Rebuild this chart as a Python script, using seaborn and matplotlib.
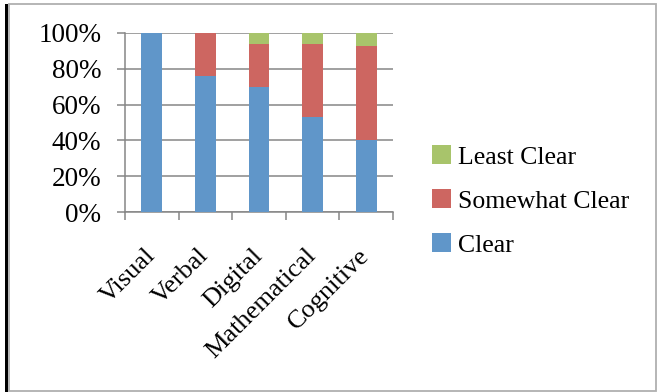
import matplotlib
matplotlib.use("Agg")
import matplotlib.pyplot as plt
from matplotlib.patches import Rectangle, Patch
from matplotlib.ticker import FixedLocator, PercentFormatter
import seaborn as sns
import pandas as pd
import numpy as np

categories = ["Visual", "Verbal", "Digital", "Mathematical", "Cognitive"]
clear = [100, 76, 70, 53, 40]
somewhat_clear = [0, 24, 24, 41, 53]
least_clear = [0, 0, 6, 6, 7]

series_names = ["Clear", "Somewhat Clear", "Least Clear"]
colors = {"Clear": "#6096C9", "Somewhat Clear": "#CD6661", "Least Clear": "#A8C46B"}

sns.set_theme(style="white")
plt.rcParams["font.family"] = ["Liberation Serif", "DejaVu Serif"]
plt.rcParams["text.color"] = "black"

df = pd.DataFrame({"category": categories, "Clear": clear,
                   "Somewhat Clear": somewhat_clear, "Least Clear": least_clear})
# running totals so each layer is painted over the one above it
df["top_clear"] = df["Clear"]
df["top_somewhat"] = df["Clear"] + df["Somewhat Clear"]
df["top_least"] = df["top_somewhat"] + df["Least Clear"]

fig = plt.figure(figsize=(6.57, 3.92), dpi=100)
W, H = 657, 392
ax = fig.add_axes([125 / W, (H - 212) / H, (393 - 125) / W, (212 - 33) / H])

for col, name in [("top_least", "Least Clear"), ("top_somewhat", "Somewhat Clear"),
                  ("top_clear", "Clear")]:
    sns.barplot(data=df, x="category", y=col, color=colors[name], width=0.39,
                saturation=1, ax=ax, linewidth=0, zorder=3)

ax.set_xlim(-0.5, len(categories) - 0.5)
ax.set_ylim(0, 100)
ax.set_xlabel("")
ax.set_ylabel("")

ax.yaxis.set_major_locator(FixedLocator([0, 20, 40, 60, 80, 100]))
ax.yaxis.set_major_formatter(PercentFormatter(decimals=0))
ax.grid(axis="y", color="#868686", linewidth=1.1, zorder=0)
ax.set_axisbelow(True)

for s in ["top", "right"]:
    ax.spines[s].set_visible(False)
for s in ["left", "bottom"]:
    ax.spines[s].set_color("#868686")
    ax.spines[s].set_linewidth(1.1)

ax.tick_params(axis="y", which="major", left=True, length=6, width=1.1,
               color="#868686", pad=11, labelsize=19.5, labelcolor="black")
ax.set_xticks(np.arange(-0.5, len(categories), 1.0), minor=True)
ax.tick_params(axis="x", which="minor", bottom=True, length=6, width=1.1, color="#868686")
ax.tick_params(axis="x", which="major", bottom=False, length=0, pad=29,
               labelsize=19, labelcolor="black")
for lbl in ax.get_xticklabels():
    lbl.set_rotation(45)
    lbl.set_ha("right")
    lbl.set_va("center")
    lbl.set_rotation_mode("anchor")

handles = [Patch(facecolor=colors[n], edgecolor="none") for n in reversed(series_names)]
fig.legend(handles, list(reversed(series_names)), loc="center left",
           bbox_to_anchor=(432 / W, 1 - 201 / H), frameon=False, fontsize=18.5,
           labelcolor="black",
           handlelength=0.75, handleheight=0.75, handletextpad=0.25, labelspacing=0.8,
           borderpad=0, borderaxespad=0)

# chart-area frame and the page rule on its left
fig.patches.append(Rectangle((9 / W, 1 / H), 647 / W, 387 / H, transform=fig.transFigure,
                             fill=False, edgecolor="#B0B0B0", linewidth=1.3))
fig.patches.append(Rectangle((5 / W, 0), 2.5 / W, 1 - 4 / H, transform=fig.transFigure,
                             facecolor="black", edgecolor="none"))

fig.savefig("out.png", dpi=100)
